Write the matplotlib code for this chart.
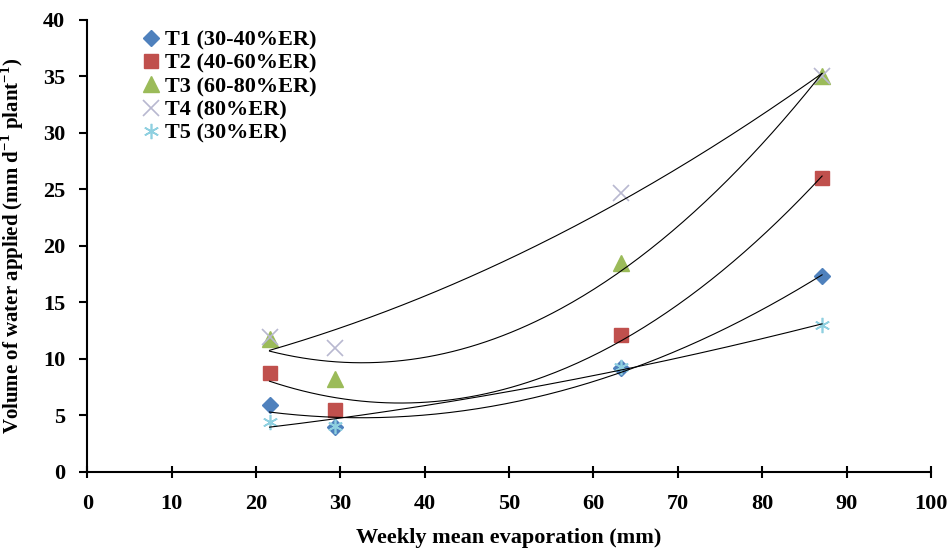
import numpy as np
import matplotlib
matplotlib.use("Agg")
import matplotlib.pyplot as plt

plt.rcParams['font.family'] = ['Liberation Serif', 'DejaVu Serif']
plt.rcParams['font.weight'] = 'bold'
plt.rcParams['mathtext.fontset'] = 'custom'
plt.rcParams['mathtext.rm'] = 'Liberation Serif'
plt.rcParams['mathtext.bf'] = 'Liberation Serif:bold'

evap = [21.6, 29.4, 63.3, 87.1]
t1 = [5.9, 4.0, 9.2, 17.3]
t2 = [8.8, 5.5, 12.1, 26.0]
t3 = [11.8, 8.2, 18.5, 35.0]
t4 = [11.9, 11.0, 24.7, 35.0]
t5 = [4.4, 4.1, 9.3, 13.0]
leg = ["T1 (30-40%ER)", "T2 (40-60%ER)", "T3 (60-80%ER)", "T4 (80%ER)", "T5 (30%ER)"]
xticks = list(range(0, 101, 10))
yticks = list(range(0, 41, 5))

series = [t1, t2, t3, t4, t5]
styles = [
    dict(marker='D', color='#4F81BD', ms=8, mec='#4F81BD'),
    dict(marker='s', color='#C0504D', ms=10, mec='#C0504D'),
    dict(marker='^', color='#9BBB59', ms=11, mec='#9BBB59'),
    dict(marker='x', color='#B8B8D0', ms=11, mew=1.2),
    dict(marker=(6, 2, 0), color='#8FD0E0', ms=11, mew=1.2),
]

fig = plt.figure(figsize=(9.5, 5.52), dpi=100)
ax = fig.add_axes([0.0919, 0.145, 0.888, 0.819])

x = np.array(evap)
xs = np.linspace(x.min(), x.max(), 200)
handles = []
for ys, st, lab in zip(series, styles, leg):
    h, = ax.plot(x, ys, linestyle='none', label=lab, zorder=2, **st)
    handles.append(h)
    c = np.polyfit(x, ys, 2)
    ax.plot(xs, np.polyval(c, xs), color='black', lw=0.8, zorder=3)

ax.set_xlim(0, 100)
ax.set_ylim(0, 40)
ax.set_xticks(xticks)
ax.set_yticks(yticks)
for s in ['top', 'right']:
    ax.spines[s].set_visible(False)
for s in ['left', 'bottom']:
    ax.spines[s].set_linewidth(1.5)
ax.tick_params(axis='y', direction='out', length=6, width=1.5, labelsize=16, pad=10)
ax.tick_params(axis='x', direction='inout', length=8, width=1.5, labelsize=16, pad=12)
for t in ax.get_xticklabels() + ax.get_yticklabels():
    t.set_fontweight('bold')

ax.set_xlabel("Weekly mean evaporation (mm)", fontsize=16, fontweight='bold')
ax.xaxis.set_label_coords(0.5, -0.125)
ax.set_ylabel("Volume of water applied (mm d$^{\\mathbf{-1}}$ plant$^{\\mathbf{-1}}$)", fontsize=15,
              fontweight='bold')
ax.yaxis.set_label_coords(-0.073, 0.5)

lg = ax.legend(handles=handles, labels=leg, loc='upper left',
               bbox_to_anchor=(0.055, 0.997), frameon=False, fontsize=16, handlelength=0.8,
               handletextpad=0.2, labelspacing=0.12, borderaxespad=0)
for t in lg.get_texts():
    t.set_fontweight('bold')

fig.savefig("out.png", dpi=100)
